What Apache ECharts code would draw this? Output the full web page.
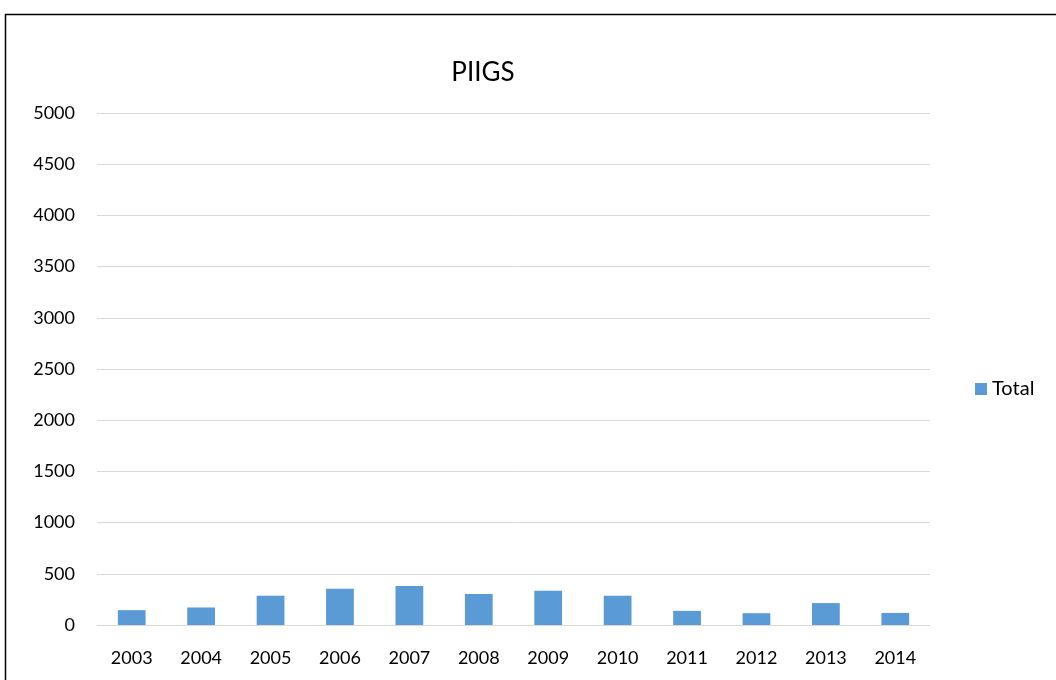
<!DOCTYPE html>
<html>
<head>
<meta charset="utf-8">
<script src="https://cdn.jsdelivr.net/npm/echarts@6/dist/echarts.min.js"></script>
<style>
  html, body { margin: 0; padding: 0; background: #fff; }
  #chart { width: 1056px; height: 680px; }
</style>
</head>
<body>
<div id="chart"></div>
<script>
const years = ['2003', '2004', '2005', '2006', '2007', '2008', '2009', '2010', '2011', '2012', '2013', '2014']
const totals = [145, 171, 286, 355, 382, 303, 335, 286, 138, 115, 214, 118]

const chartInstance = echarts.init(document.getElementById('chart'))
const font = 'Lato, "Open Sans", sans-serif'

const option = {
  backgroundColor: '#fff',
  animation: false,
  title: {
    text: 'PIIGS',
    left: 478,
    top: 55,
    textAlign: 'center',
    textStyle: { fontFamily: font, fontSize: 26, fontWeight: 'normal', color: '#000' }
  },
  legend: {
    data: ['Total'],
    left: 970,
    top: 374,
    icon: 'rect',
    itemWidth: 12,
    itemHeight: 12,
    itemGap: 4,
    textStyle: { fontFamily: font, fontSize: 20, color: '#000' }
  },
  grid: {
    left: 97,
    right: 126,
    top: 113,
    bottom: 55
  },
  xAxis: {
    type: 'category',
    data: years,
    axisTick: { show: false },
    axisLine: { lineStyle: { color: '#d9d9d9', width: 1 } },
    axisLabel: { color: '#000', fontFamily: font, fontSize: 18, margin: 24 }
  },
  yAxis: {
    type: 'value',
    min: 0,
    max: 5000,
    interval: 500,
    splitLine: { lineStyle: { color: '#d9d9d9', width: 1 } },
    axisLabel: {
      color: '#000',
      fontFamily: font,
      fontSize: 18,
      margin: 22,
      formatter: (value) => String(value)
    }
  },
  series: [
    {
      name: 'Total',
      type: 'bar',
      barWidth: '40%',
      itemStyle: { color: '#5b9bd5' },
      data: totals
    }
  ],
  graphic: [
    {
      type: 'rect',
      shape: { x: 5.5, y: 14.5, width: 1100, height: 700 },
      style: { fill: 'none', stroke: '#000', lineWidth: 1.5 },
      silent: true
    }
  ]
}
chartInstance.setOption(option)
</script>
</body>
</html>
